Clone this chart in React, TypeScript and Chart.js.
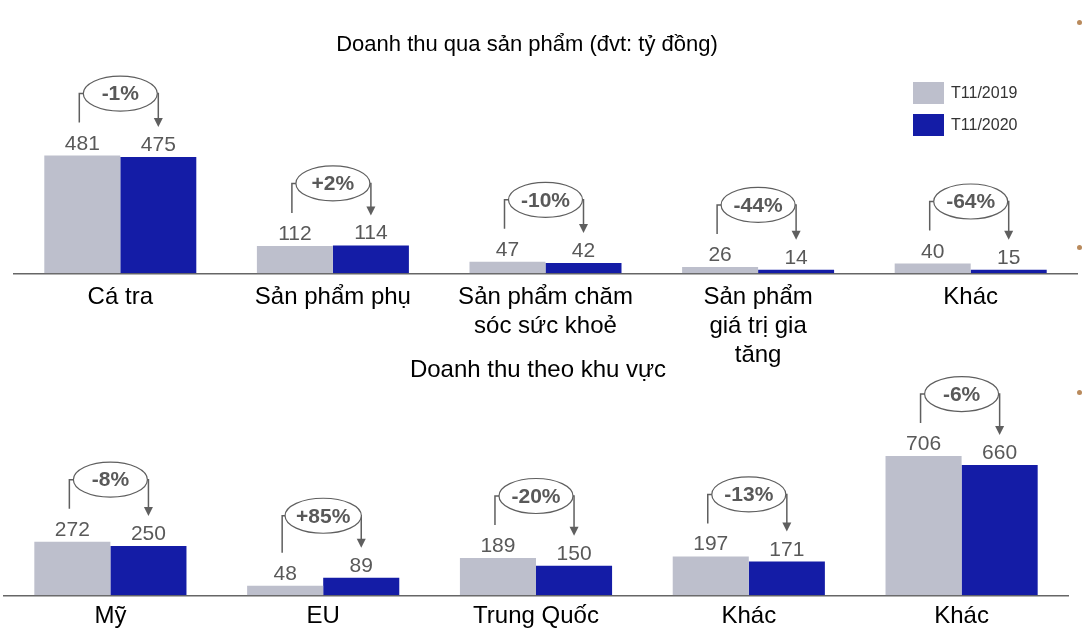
import { useEffect, useRef } from "react";
import { Chart, registerables } from "chart.js";

Chart.register(...registerables);

const FONT = '"Liberation Sans", Arial, Helvetica, sans-serif';
const GREY_TEXT = "#595959";
const LINE = "#5f5f5f";

// series
const seriesNames = ["T11/2019", "T11/2020"];
const seriesColors = ["#BDBFCC", "#141CA6"];

// Doanh thu qua sản phẩm
const productLabels = [
  ["Cá tra"],
  ["Sản phẩm phụ"],
  ["Sản phẩm chăm", "sóc sức khoẻ"],
  ["Sản phẩm", "giá trị gia", "tăng"],
  ["Khác"],
];
const product2019 = [481, 112, 47, 26, 40];
const product2020 = [475, 114, 42, 14, 15];
const productChange = ["-1%", "+2%", "-10%", "-44%", "-64%"];

// Doanh thu theo khu vực
const regionLabels = ["Mỹ", "EU", "Trung Quốc", "Khác", "Khác"];
const region2019 = [272, 48, 189, 197, 706];
const region2020 = [250, 89, 150, 171, 660];
const regionChange = ["-8%", "+85%", "-20%", "-13%", "-6%"];

const LABEL_GAP = 6;
const DIGIT_H = 15;

// numbers above each bar
const valueLabels = {
  id: "valueLabels",
  afterDatasetsDraw(chart: any) {
    const ctx = chart.ctx;
    ctx.save();
    ctx.font = `21px ${FONT}`;
    ctx.fillStyle = GREY_TEXT;
    ctx.textAlign = "center";
    ctx.textBaseline = "alphabetic";
    chart.data.datasets.forEach((ds: any, di: number) => {
      chart.getDatasetMeta(di).data.forEach((bar: any, i: number) => {
        ctx.fillText(String(ds.data[i]), bar.x, bar.y - LABEL_GAP);
      });
    });
    ctx.restore();
  },
};

// bubble with % change and the bracket arrow from 2019 to 2020
function changeBubbles(changes: string[]) {
  return {
    id: "changeBubbles",
    afterDatasetsDraw(chart: any) {
      const ctx = chart.ctx;
      const a = chart.getDatasetMeta(0).data;
      const b = chart.getDatasetMeta(1).data;
      ctx.save();
      changes.forEach((txt, i) => {
        const p = a[i];
        const q = b[i];
        const topA = p.y - LABEL_GAP - DIGIT_H;
        const topB = q.y - LABEL_GAP - DIGIT_H;
        const ey = Math.min(topA, topB) - 41;
        const cx = (p.x + q.x) / 2;
        const tip = topB - 9;
        const lx = p.x - 3;

        ctx.strokeStyle = LINE;
        ctx.lineWidth = 1.5;
        ctx.beginPath();
        ctx.moveTo(lx, topA - 12);
        ctx.lineTo(lx, ey);
        ctx.lineTo(q.x, ey);
        ctx.lineTo(q.x, tip - 8);
        ctx.stroke();

        ctx.fillStyle = LINE;
        ctx.beginPath();
        ctx.moveTo(q.x - 4.5, tip - 9);
        ctx.lineTo(q.x + 4.5, tip - 9);
        ctx.lineTo(q.x, tip);
        ctx.closePath();
        ctx.fill();

        ctx.font = `bold 21px ${FONT}`;
        const tw = ctx.measureText(txt).width;
        const rx = Math.max(37, tw / 2 + 11);
        ctx.beginPath();
        ctx.ellipse(cx, ey, rx, 17.5, 0, 0, Math.PI * 2);
        ctx.fillStyle = "#fff";
        ctx.fill();
        ctx.lineWidth = 1.2;
        ctx.strokeStyle = LINE;
        ctx.stroke();

        ctx.fillStyle = GREY_TEXT;
        ctx.textAlign = "center";
        ctx.textBaseline = "middle";
        ctx.fillText(txt, cx, ey + 1);
      });
      ctx.restore();
    },
  };
}

function panelTitle(text: string, x: number, y: number, size: number) {
  return {
    id: "panelTitle",
    afterDraw(chart: any) {
      const ctx = chart.ctx;
      ctx.save();
      ctx.font = `${size}px ${FONT}`;
      ctx.fillStyle = "#000";
      ctx.textAlign = "center";
      ctx.textBaseline = "middle";
      ctx.fillText(text, x, y);
      ctx.restore();
    },
  };
}

function boxLegend(x: number, y: number) {
  return {
    id: "boxLegend",
    afterDraw(chart: any) {
      const ctx = chart.ctx;
      ctx.save();
      ctx.font = `16px ${FONT}`;
      ctx.textAlign = "left";
      ctx.textBaseline = "middle";
      chart.data.datasets.forEach((ds: any, i: number) => {
        const top = y + i * 32;
        ctx.fillStyle = ds.backgroundColor;
        ctx.fillRect(x, top, 31, 22);
        ctx.fillStyle = "#333";
        ctx.fillText(ds.label, x + 38, top + 12);
      });
      ctx.restore();
    },
  };
}

function makeChart(
  canvas: HTMLCanvasElement,
  labels: any[],
  d19: number[],
  d20: number[],
  opts: {
    height: number;
    axisY: number;
    max: number;
    padLeft: number;
    padRight: number;
    padTop: number;
    tickPad: number;
    plugins: any[];
  }
) {
  return new Chart(canvas, {
    type: "bar",
    data: {
      labels,
      datasets: [
        {
          label: seriesNames[0],
          data: d19,
          backgroundColor: seriesColors[0],
          borderWidth: 0,
          categoryPercentage: 0.715,
          barPercentage: 1,
        },
        {
          label: seriesNames[1],
          data: d20,
          backgroundColor: seriesColors[1],
          borderWidth: 0,
          categoryPercentage: 0.715,
          barPercentage: 1,
        },
      ],
    },
    options: {
      responsive: false,
      animation: false,
      layout: {
        padding: { left: opts.padLeft, right: opts.padRight, top: opts.padTop, bottom: 0 },
      },
      plugins: {
        legend: { display: false },
        title: { display: false },
        tooltip: { enabled: false },
      },
      scales: {
        x: {
          grid: { display: false, drawTicks: false },
          border: { display: true, color: "#666", width: 1.5 },
          ticks: {
            color: "#000",
            font: { family: FONT, size: 24, lineHeight: 1.2 },
            padding: opts.tickPad,
            maxRotation: 0,
            autoSkip: false,
          },
          afterFit: (s: any) => {
            s.height = opts.height - opts.axisY;
          },
        },
        y: { display: false, min: 0, max: opts.max },
      },
    } as any,
    plugins: [valueLabels, ...opts.plugins],
  });
}

export default function App() {
  const topRef = useRef<HTMLCanvasElement | null>(null);
  const bottomRef = useRef<HTMLCanvasElement | null>(null);

  useEffect(() => {
    if (!topRef.current || !bottomRef.current) return;

    const top = makeChart(topRef.current, productLabels, product2019, product2020, {
      height: 370,
      axisY: 273.3,
      max: 790,
      padLeft: 14,
      padRight: 5,
      padTop: 80,
      tickPad: 10,
      plugins: [
        changeBubbles(productChange),
        panelTitle("Doanh thu qua sản phẩm (đvt: tỷ đồng)", 527, 45, 22),
        boxLegend(913, 82),
      ],
    });

    // bottom canvas sits at page y = 340
    const bottom = makeChart(bottomRef.current, regionLabels, region2019, region2020, {
      height: 303,
      axisY: 255.3,
      max: 990,
      padLeft: 4,
      padRight: 14,
      padTop: 60,
      tickPad: 7,
      plugins: [
        changeBubbles(regionChange),
        panelTitle("Doanh thu theo khu vực", 538, 30, 24),
      ],
    });

    return () => {
      top.destroy();
      bottom.destroy();
    };
  }, []);

  const dot = (y: number) => (
    <div
      style={{
        position: "absolute",
        left: 1077,
        top: y,
        width: 5,
        height: 5,
        borderRadius: "50%",
        background: "#b98a5c",
      }}
    />
  );

  return (
    <div
      style={{
        position: "absolute",
        left: 0,
        top: 0,
        width: 1082,
        height: 643,
        background: "#fff",
        overflow: "hidden",
      }}
    >
      <canvas
        ref={topRef}
        width={1082}
        height={370}
        style={{ position: "absolute", left: 0, top: 0 }}
      />
      <canvas
        ref={bottomRef}
        width={1082}
        height={303}
        style={{ position: "absolute", left: 0, top: 340 }}
      />
      {dot(20)}
      {dot(245)}
      {dot(390)}
    </div>
  );
}
